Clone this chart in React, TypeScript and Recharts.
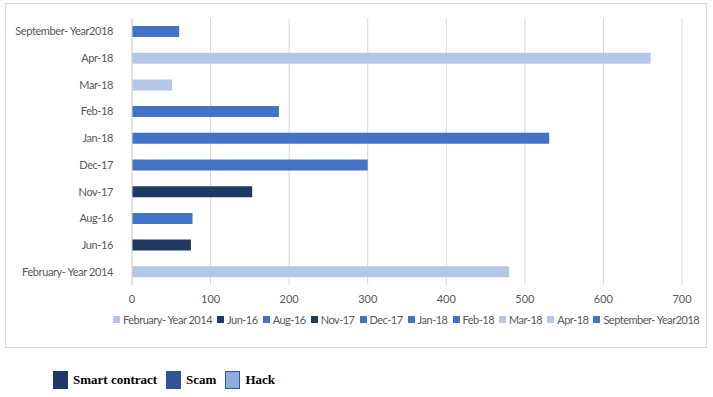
import React from 'react';
import { BarChart, Bar, XAxis, YAxis, CartesianGrid, Cell } from 'recharts';

const categories = [
  'February- Year 2014',
  'Jun-16',
  'Aug-16',
  'Nov-17',
  'Dec-17',
  'Jan-18',
  'Feb-18',
  'Mar-18',
  'Apr-18',
  'September- Year2018',
];
const values = [480, 75, 77, 153, 300, 531, 187, 51, 660, 60];
const kinds = ['hack', 'smart', 'scam', 'smart', 'scam', 'scam', 'scam', 'hack', 'hack', 'scam'];
const xTicks = [0, 100, 200, 300, 400, 500, 600, 700];

const barColors: Record<string, string> = {
  smart: '#203864',
  scam: '#4472C4',
  hack: '#B4C7E7',
};

const typeLegend = [
  { label: 'Smart contract', color: '#1F3864', border: '#1F3864' },
  { label: 'Scam', color: '#2F5597', border: '#2F5597' },
  { label: 'Hack', color: '#8FAADC', border: '#2F5597' },
];

const data = categories.map((name, i) => ({ name, value: values[i], kind: kinds[i] }));

const FONT = 'Lato, sans-serif';
const axisFont = { fill: '#595959', fontSize: 11, fontFamily: FONT };

const CategoryTick = ({ x, y, payload }: any) => (
  <text
    x={x - 11}
    y={y}
    dy={4}
    textAnchor="end"
    fill="#595959"
    fontSize={11}
    fontFamily={FONT}
    letterSpacing={-0.4}
  >
    {payload.value}
  </text>
);

const App: React.FC = () => {
  return (
    <div style={{ position: 'absolute', left: 0, top: 0, width: 713, height: 397, background: '#fff' }}>
      <div
        style={{
          position: 'absolute',
          left: 5,
          top: 3,
          width: 700,
          height: 343,
          border: '1px solid #D9D9D9',
        }}
      />
      <div style={{ position: 'absolute', left: 0, top: 0 }}>
        <BarChart
          width={713}
          height={312}
          data={data}
          layout="vertical"
          margin={{ top: 18, right: 31, left: 0, bottom: 7 }}
        >
          <CartesianGrid horizontal={false} stroke="#D9D9D9" />
          <XAxis
            type="number"
            domain={[0, 700]}
            ticks={xTicks}
            axisLine={false}
            tickLine={false}
            tick={axisFont}
            height={20}
            tickMargin={4}
          />
          <YAxis
            type="category"
            dataKey="name"
            reversed
            width={132}
            axisLine={{ stroke: '#D9D9D9' }}
            tickLine={false}
            tick={<CategoryTick />}
            interval={0}
          />
          <Bar dataKey="value" barSize={11} isAnimationActive={false}>
            {data.map((d) => (
              <Cell key={d.name} fill={barColors[d.kind]} />
            ))}
          </Bar>
        </BarChart>
      </div>
      {/* category legend, like Excel's vary-colors-by-point legend */}
      <div
        style={{
          position: 'absolute',
          left: 113,
          top: 313,
          display: 'flex',
          whiteSpace: 'nowrap',
          fontFamily: FONT,
          fontSize: 11,
          letterSpacing: -0.5,
          color: '#595959',
          gap: 5,
        }}
      >
        {data.map((d) => (
          <div key={d.name} style={{ display: 'flex', alignItems: 'center' }}>
            <span
              style={{
                display: 'inline-block',
                width: 7,
                height: 7,
                background: barColors[d.kind],
                marginRight: 3,
              }}
            />
            {d.name}
          </div>
        ))}
      </div>
      <div
        style={{
          position: 'absolute',
          left: 53,
          top: 371,
          display: 'flex',
          alignItems: 'center',
          fontFamily: 'Liberation Serif, serif',
          fontWeight: 'bold',
          fontSize: 13,
          color: '#000',
        }}
      >
        {typeLegend.map((t) => (
          <div key={t.label} style={{ display: 'flex', alignItems: 'center', marginRight: 9 }}>
            <span
              style={{
                display: 'inline-block',
                width: 13,
                height: 16,
                background: t.color,
                border: `1px solid ${t.border}`,
                marginRight: 5,
              }}
            />
            {t.label}
          </div>
        ))}
      </div>
    </div>
  );
};

export default App;
